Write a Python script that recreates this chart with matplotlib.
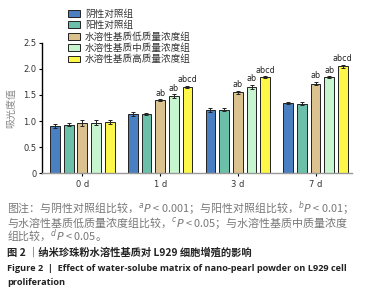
import matplotlib
matplotlib.use("Agg")
import matplotlib.pyplot as plt
import numpy as np

plt.rcParams['font.family'] = ['Noto Sans CJK SC', 'DejaVu Sans']

categories = ["0 d", "1 d", "3 d", "7 d"]
series_names = ["阴性对照组", "阳性对照组", "水溶性基质低质量浓度组",
                "水溶性基质中质量浓度组", "水溶性基质高质量浓度组"]
values = {
    "阴性对照组": [0.91, 1.13, 1.21, 1.34],
    "阳性对照组": [0.93, 1.14, 1.22, 1.33],
    "水溶性基质低质量浓度组": [0.96, 1.40, 1.55, 1.72],
    "水溶性基质中质量浓度组": [0.97, 1.48, 1.66, 1.84],
    "水溶性基质高质量浓度组": [0.98, 1.66, 1.84, 2.05],
}
errors = {
    "阴性对照组": [0.04, 0.04, 0.04, 0.02],
    "阳性对照组": [0.03, 0.02, 0.03, 0.03],
    "水溶性基质低质量浓度组": [0.05, 0.02, 0.03, 0.03],
    "水溶性基质中质量浓度组": [0.05, 0.03, 0.04, 0.02],
    "水溶性基质高质量浓度组": [0.03, 0.02, 0.02, 0.03],
}
labels = {
    "阴性对照组": ["", "", "", ""],
    "阳性对照组": ["", "", "", ""],
    "水溶性基质低质量浓度组": ["", "ab", "ab", "ab"],
    "水溶性基质中质量浓度组": ["", "ab", "ab", "ab"],
    "水溶性基质高质量浓度组": ["", "abcd", "abcd", "abcd"],
}
colors = ["#4a7fc1", "#6cbfa8", "#dcc28e", "#c6f5cf", "#fdf74a"]
yticks = [0, 0.5, 1.0, 1.5, 2.0, 2.5]
yticklabels = ["0", "0.5", "1.0", "1.5", "2.0", "2.5"]

fig = plt.figure(figsize=(3.69, 3.00), dpi=100)
ax = fig.add_axes([0.114, 0.423, 0.840, 0.434])

x = np.arange(len(categories))
pitch = 0.176
width = 0.128
for i, name in enumerate(series_names):
    xs = x + (i - 2) * pitch
    ax.bar(xs, values[name], width=width, color=colors[i], edgecolor="#222222",
           linewidth=0.7, yerr=errors[name], capsize=1.6,
           error_kw=dict(elinewidth=0.7, capthick=0.7, ecolor="#222222"),
           label=name, zorder=2)
    for xi, v, e, t in zip(xs, values[name], errors[name], labels[name]):
        if t:
            ax.text(xi, v + e + 0.03, t, ha="center", va="bottom",
                    fontsize=5.8, color="#222222", family="DejaVu Sans")

ax.set_xlim(-0.52, 3.47)
ax.set_ylim(0, 2.5)
ax.set_yticks(yticks)
ax.set_yticklabels(yticklabels, fontsize=6, color="#333333", family="DejaVu Sans")
ax.set_xticks(x)
ax.set_xticklabels(categories, fontsize=6, color="#333333", family="DejaVu Sans")
ax.tick_params(axis="y", length=2.5, width=0.8, pad=1.5)
ax.tick_params(axis="x", length=2, width=0.8, pad=3)
ax.spines["top"].set_visible(False)
ax.spines["right"].set_visible(False)
ax.spines["left"].set_linewidth(1.0)
ax.spines["bottom"].set_color("#999999")
ax.spines["bottom"].set_linewidth(1.0)
ax.set_ylabel("吸光度值", fontsize=7.2, color="#888888", labelpad=5)

leg = ax.legend(loc="upper left", bbox_to_anchor=(0.07, 1.29), frameon=False,
                fontsize=6.9, handlelength=1.3, handleheight=0.7,
                handletextpad=0.5, labelspacing=0.2, borderaxespad=0)
for t in leg.get_texts():
    t.set_color("#333333")

gray = "#777777"
note = ("图注：与阴性对照组比较，$^{a}$$P$ < 0.001；与阳性对照组比较，$^{b}$$P$ < 0.01；\n"
        "与水溶性基质低质量浓度组比较，$^{c}$$P$ < 0.05；与水溶性基质中质量浓度\n"
        "组比较，$^{d}$$P$ < 0.05。")
fig.text(0.02, 1 - 200 / 300, note, fontsize=7.9, color=gray, va="top",
         linespacing=0.72)
fig.text(0.02, 1 - 253 / 300, "图 2 ｜纳米珍珠粉水溶性基质对 L929 细胞增殖的影响",
         fontsize=7.4, color="#222222", va="center", weight="bold")
fig.text(0.02, 1 - 275.5 / 300,
         "Figure 2  |  Effect of water-solube matrix of nano-pearl powder on L929 cell\nproliferation",
         fontsize=6.6, color="#222222", va="center", weight="bold", family="Open Sans",
         linespacing=1.6)

fig.savefig("out.png", dpi=100)
